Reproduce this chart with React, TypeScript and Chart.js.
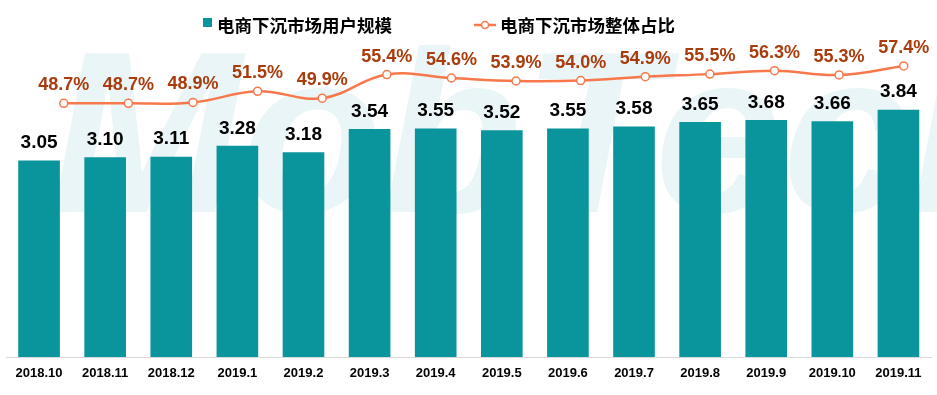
import React, { useEffect, useRef } from "react";
import { Chart, registerables } from "chart.js";

Chart.register(...registerables);

const categories = ["2018.10", "2018.11", "2018.12", "2019.1", "2019.2", "2019.3", "2019.4", "2019.5", "2019.6", "2019.7", "2019.8", "2019.9", "2019.10", "2019.11"];
const userScale = [3.05, 3.10, 3.11, 3.28, 3.18, 3.54, 3.55, 3.52, 3.55, 3.58, 3.65, 3.68, 3.66, 3.84];
const sharePct = [48.7, 48.7, 48.9, 51.5, 49.9, 55.4, 54.6, 53.9, 54.0, 54.9, 55.5, 56.3, 55.3, 57.4];
const barLegend = "电商下沉市场用户规模";
const lineLegend = "电商下沉市场整体占比";

const BAR = "#0A959C";
const LINE = "#F7784A";
const LINE_LABEL = "#A93C0C";

const overlay = {
  id: "overlay",
  beforeDraw(chart: any) {
    const ctx = chart.ctx;
    ctx.save();
    ctx.fillStyle = "rgba(10,149,156,0.09)";
    ctx.font = "italic bold 230px Arial";
    ctx.textBaseline = "alphabetic";
    ctx.fillText("MobTech", 50, 212);
    ctx.restore();
  },
  afterDatasetsDraw(chart: any) {
    const ctx = chart.ctx;
    ctx.save();
    ctx.textAlign = "center";
    ctx.textBaseline = "bottom";
    const barMeta = chart.getDatasetMeta(0);
    ctx.fillStyle = "#000";
    ctx.font = "bold 19px Arial";
    barMeta.data.forEach((el: any, i: number) => {
      ctx.fillText(userScale[i].toFixed(2), el.x, el.y - 8);
    });
    const lineMeta = chart.getDatasetMeta(1);
    ctx.fillStyle = LINE_LABEL;
    ctx.font = "bold 18px Arial";
    lineMeta.data.forEach((el: any, i: number) => {
      ctx.fillText(sharePct[i].toFixed(1) + "%", el.x, el.y - 9);
    });
    ctx.textAlign = "left";
    ctx.textBaseline = "middle";
    ctx.font = "bold 17.5px 'Noto Sans CJK SC'";
    ctx.fillStyle = BAR;
    ctx.fillRect(203, 18, 9, 9);
    ctx.fillStyle = "#000";
    ctx.fillText(barLegend, 217, 25);
    ctx.strokeStyle = LINE;
    ctx.lineWidth = 2.5;
    ctx.beginPath();
    ctx.moveTo(474, 25);
    ctx.lineTo(496, 25);
    ctx.stroke();
    ctx.beginPath();
    ctx.fillStyle = "#fff";
    ctx.lineWidth = 1.5;
    ctx.arc(485, 25, 3.5, 0, Math.PI * 2);
    ctx.fill();
    ctx.stroke();
    ctx.fillStyle = "#000";
    ctx.fillText(lineLegend, 500, 25);
    ctx.restore();
  },
};

export default function App() {
  const ref = useRef<HTMLCanvasElement>(null);
  useEffect(() => {
    document.body.style.margin = "0";
    const chart = new Chart(ref.current!, {
      type: "line",
      data: {
        labels: categories,
        datasets: [
          {
            type: "bar",
            label: barLegend,
            data: userScale,
            backgroundColor: BAR,
            barPercentage: 0.63,
            categoryPercentage: 1,
            grouped: false,
            xAxisID: "x",
            yAxisID: "y",
            order: 2,
          } as any,
          {
            type: "line",
            label: lineLegend,
            data: sharePct.map((v, i) => ({ x: i, y: v })) as any,
            borderColor: LINE,
            borderWidth: 2.5,
            tension: 0.4,
            pointRadius: 4,
            pointBackgroundColor: "#fff",
            pointBorderColor: LINE,
            pointBorderWidth: 1.5,
            xAxisID: "x2",
            yAxisID: "y2",
            order: 1,
          },
        ],
      },
      options: {
        animation: false,
        responsive: false,
        layout: { padding: { left: 6, right: 4, top: 35, bottom: 14 } },
        plugins: { legend: { display: false }, tooltip: { enabled: false } },
        scales: {
          x: {
            type: "category",
            offset: true,
            grid: { display: false, drawTicks: false, offset: true },
            border: { display: true, color: "#D9D9D9", width: 1 },
            ticks: { color: "#000", font: { family: "Arial", weight: "bold", size: 13 }, padding: 9, maxRotation: 0, autoSkip: false },
            afterFit: (s: any) => { s.height = 24; },
          },
          x2: { type: "linear", display: false, offset: false, min: -0.894, max: 13.43 },
          y: { display: false, min: 0, max: 5 },
          y2: { display: false, min: -10.44, max: 64.62 },
        },
      },
      plugins: [overlay],
    });
    return () => chart.destroy();
  }, []);
  return <canvas ref={ref} width={937} height={395} style={{ display: "block" }} />;
}
